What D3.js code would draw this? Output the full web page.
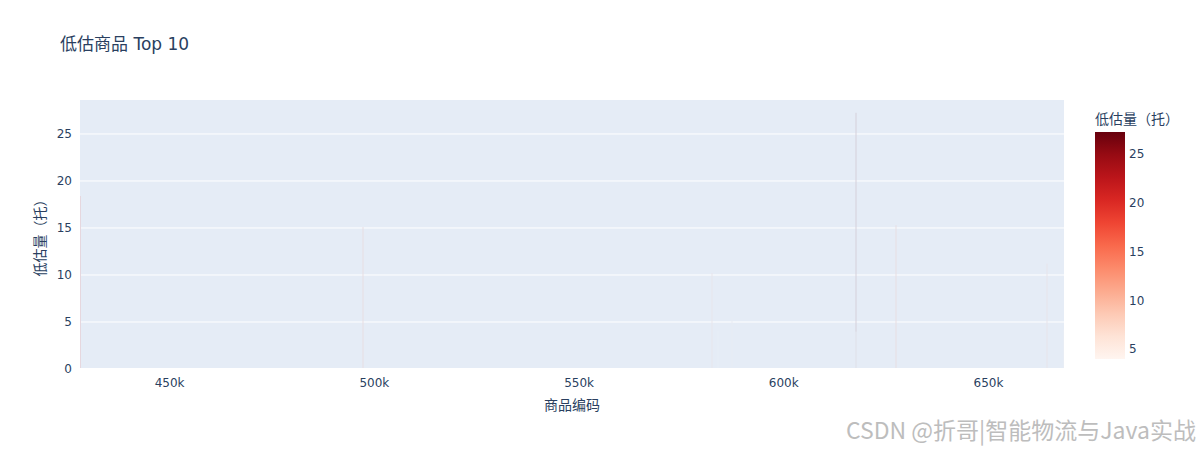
<!DOCTYPE html>
<html lang="zh">
<head>
  <meta charset="UTF-8">
  <script src="https://cdn.jsdelivr.net/npm/d3@7"></script>
  <style>
    body { margin: 0; background: #fff; }
    svg { display: block; font-family: "DejaVu Sans", verdana, "Noto Sans CJK SC", sans-serif; }
  </style>
</head>
<body>
  <script>
    const width = 1200;
    const height = 450;

    // product codes (x) and underestimated quantity (y), sorted desc
    const codes = [617750, 428230, 627450, 497310, 664410, 582620, 587460, 668570, 584040, 617800];
    const values = [27.25, 18.4, 15.3, 15.1, 11.2, 10.2, 5.5, 4.2, 4.0, 3.98];
    const xTicks = [450000, 500000, 550000, 600000, 650000];
    const yTicks = [0, 5, 10, 15, 20, 25];
    const cbTicks = [5, 10, 15, 20, 25];

    const plot = { left: 80, right: 1064, top: 100, bottom: 369 };
    const bg = "#E5ECF6";
    const textColor = "#2a3f5f";

    const svg = d3.select("body").append("svg")
      .attr("width", width)
      .attr("height", height);

    const x = d3.scaleLinear()
      .domain([d3.min(codes) - 0.5, d3.max(codes) + 0.5])
      .range([plot.left, plot.right]);

    const y = d3.scaleLinear()
      .domain([0, d3.max(values) * 1.05])
      .range([plot.bottom, plot.top]);

    const cmin = d3.min(values), cmax = d3.max(values);
    const color = d3.scaleSequential(d3.interpolateReds).domain([cmin, cmax]);

    // plot background
    svg.append("rect")
      .attr("x", plot.left).attr("y", plot.top)
      .attr("width", plot.right - plot.left)
      .attr("height", plot.bottom - plot.top)
      .attr("fill", bg);

    // grid lines
    svg.append("g")
      .selectAll("line")
      .data(yTicks.filter(d => d > 0))
      .join("line")
      .attr("x1", plot.left).attr("x2", plot.right)
      .attr("y1", d => y(d)).attr("y2", d => y(d))
      .attr("stroke", "#fff").attr("stroke-width", 1);

    // bars: one unit wide, so they end up as faint hairlines
    const bars = codes.map((c, i) => ({ code: c, value: values[i] }));
    svg.append("g")
      .selectAll("rect")
      .data(bars)
      .join("rect")
      .attr("x", d => Math.min(plot.right - 1, Math.max(plot.left, Math.round(x(d.code)) - 0.5)))
      .attr("width", 1)
      .attr("y", d => y(d.value))
      .attr("height", d => y(0) - y(d.value))
      .attr("fill", d => d3.interpolateRgb(bg, color(d.value))(0.12));

    // zero line
    svg.append("line")
      .attr("x1", plot.left).attr("x2", plot.right)
      .attr("y1", y(0)).attr("y2", y(0))
      .attr("stroke", "#fff").attr("stroke-width", 2);

    function styleAxis(g) {
      g.attr("font-family", null).attr("font-size", null);
      g.select(".domain").remove();
      g.selectAll("text").attr("fill", textColor).attr("font-size", 12);
    }

    // x axis
    svg.append("g")
      .attr("transform", `translate(0,${plot.bottom})`)
      .call(d3.axisBottom(x).tickValues(xTicks).tickSize(0).tickPadding(9)
        .tickFormat(d => (d / 1000) + "k"))
      .call(styleAxis);

    // y axis
    svg.append("g")
      .attr("transform", `translate(${plot.left},0)`)
      .call(d3.axisLeft(y).tickValues(yTicks).tickSize(0).tickPadding(8))
      .call(styleAxis);

    // titles
    svg.append("text")
      .attr("x", 60).attr("y", 50)
      .attr("fill", textColor).attr("font-size", 17)
      .text("低估商品 Top 10");

    svg.append("text")
      .attr("x", (plot.left + plot.right) / 2).attr("y", 410)
      .attr("text-anchor", "middle")
      .attr("fill", textColor).attr("font-size", 14)
      .text("商品编码");

    svg.append("text")
      .attr("transform", `translate(45,${(plot.top + plot.bottom) / 2}) rotate(-90)`)
      .attr("text-anchor", "middle")
      .attr("fill", textColor).attr("font-size", 14)
      .text("低估量（托）");

    // colorbar
    const cb = { x: 1095, w: 30, top: 132, bottom: 359 };
    const grad = svg.append("defs").append("linearGradient")
      .attr("id", "cbgrad")
      .attr("x1", 0).attr("y1", 1).attr("x2", 0).attr("y2", 0);
    d3.range(0, 1.01, 0.1).forEach(t => {
      grad.append("stop")
        .attr("offset", t)
        .attr("stop-color", d3.interpolateReds(t));
    });
    svg.append("rect")
      .attr("x", cb.x).attr("y", cb.top)
      .attr("width", cb.w).attr("height", cb.bottom - cb.top)
      .attr("fill", "url(#cbgrad)");

    const cbScale = d3.scaleLinear().domain([cmin, cmax]).range([cb.bottom, cb.top]);
    svg.append("g")
      .attr("transform", `translate(${cb.x + cb.w},0)`)
      .call(d3.axisRight(cbScale).tickValues(cbTicks).tickSize(0).tickPadding(4))
      .call(styleAxis);

    svg.append("text")
      .attr("x", cb.x).attr("y", 124)
      .attr("fill", textColor).attr("font-size", 14)
      .text("低估量（托）");

    // watermark
    svg.append("text")
      .attr("x", 1196).attr("y", 439)
      .attr("text-anchor", "end")
      .attr("font-family", "'Noto Sans CJK SC', sans-serif")
      .attr("font-size", 23)
      .attr("fill", "#bdbdbd")
      .attr("stroke", "#fff").attr("stroke-width", 0.6)
      .attr("paint-order", "stroke")
      .text("CSDN @折哥|智能物流与Java实战");
  </script>
</body>
</html>
